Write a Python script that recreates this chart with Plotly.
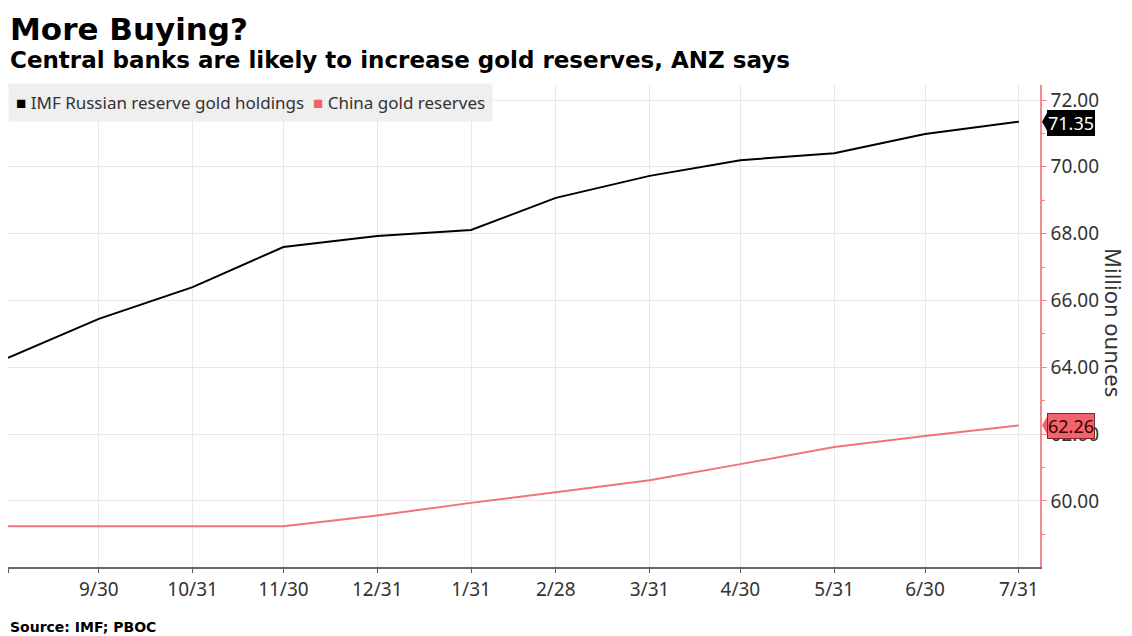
import plotly.graph_objects as go

dates = ["2018-08-31", "2018-09-30", "2018-10-31", "2018-11-30", "2018-12-31", "2019-01-31",
         "2019-02-28", "2019-03-31", "2019-04-30", "2019-05-31", "2019-06-30", "2019-07-31"]
russia = [64.28, 65.45, 66.40, 67.60, 67.93, 68.11, 69.07, 69.73, 70.20, 70.41, 70.98, 71.35]
china = [59.24, 59.24, 59.24, 59.24, 59.56, 59.94, 60.26, 60.62, 61.10, 61.61, 61.94, 62.26]
tick_labels = ["", "9/30", "10/31", "11/30", "12/31", "1/31", "2/28", "3/31", "4/30", "5/31", "6/30", "7/31"]

BLACK = "#000000"
RED = "#f0737b"
BADGE_RED = "#f2636b"
FONT = "Noto Sans"
BOLD = "DejaVu Sans"

fig = go.Figure()
fig.add_trace(go.Scatter(x=dates, y=china, mode="lines", line=dict(color=RED, width=2),
                         name="China gold reserves", showlegend=False))
fig.add_trace(go.Scatter(x=dates, y=russia, mode="lines", line=dict(color=BLACK, width=2),
                         name="IMF Russian reserve gold holdings", showlegend=False))

W, H = 1132, 636
L, R, T, B = 8, 92, 85, 69
ph = H - T - B
pw = W - L - R

def py(p):
    return (H - B - p) / ph

def px(p):
    return (p - L) / pw

annotations = [
    dict(text="<b>More Buying?</b>",
         xref="paper", yref="paper", x=0, y=py(29), xanchor="left", yanchor="middle",
         showarrow=False, font=dict(family=BOLD, size=31, color="#000")),
    dict(text="<b>Central banks are likely to increase gold reserves, ANZ says</b>",
         xref="paper", yref="paper", x=0, y=py(60), xanchor="left", yanchor="middle",
         showarrow=False, font=dict(family=BOLD, size=23, color="#000")),
    dict(text="<b>Source: IMF; PBOC</b>",
         xref="paper", yref="paper", x=0, y=py(627), xanchor="left", yanchor="middle",
         showarrow=False, font=dict(family=BOLD, size=14, color="#000")),
    dict(text="Million ounces", xref="paper", yref="paper", x=px(1114), y=py(322),
         xanchor="center", yanchor="middle", textangle=90, showarrow=False,
         font=dict(family=FONT, size=22, color="#333")),
    dict(text=("<span style='color:#000'>■</span> IMF Russian reserve gold holdings  "
               "<span style='color:%s'>■</span> China gold reserves" % BADGE_RED),
         xref="paper", yref="paper", x=0, y=py(102), xanchor="left", yanchor="middle",
         showarrow=False, bgcolor="#efefef", borderpad=7,
         font=dict(family=FONT, size=17, color="#333")),
]

shapes = []
for vals, fill, txtcol in [(russia, BLACK, "#ffffff"), (china, BADGE_RED, "#3a0000")]:
    v = vals[-1]
    annotations.append(dict(text="%.2f" % v, xref="paper", yref="y", x=1, y=v,
                            xanchor="left", yanchor="middle", xshift=7, yshift=-1, showarrow=False,
                            bgcolor=fill, bordercolor=fill if fill == BLACK else "#7a2a2a",
                            borderwidth=1, borderpad=0,
                            font=dict(family=FONT, size=18, color=txtcol)))
    hh = 10.5 / 33.42
    x0 = 1 + 2 / pw
    x1 = 1 + 8 / pw
    shapes.append(dict(type="path", xref="paper", yref="y",
                       path=f"M {x0} {v} L {x1} {v + hh} L {x1} {v - hh} Z",
                       fillcolor=fill, line=dict(width=0), layer="above"))

fig.update_layout(
    width=W, height=H,
    margin=dict(l=L, r=R, t=T, b=B),
    paper_bgcolor="white", plot_bgcolor="white",
    showlegend=False,
    font=dict(family=FONT, color="#333"),
    xaxis=dict(type="date", range=["2018-08-31", "2019-08-07"],
               tickvals=dates, ticktext=tick_labels,
               showgrid=True, gridcolor="#e8e8e8", gridwidth=1,
               showline=True, linecolor="#666", linewidth=2,
               ticks="outside", ticklen=4, tickcolor="#555",
               tickfont=dict(family=FONT, size=19, color="#333"),
               zeroline=False, fixedrange=True),
    yaxis=dict(side="right", range=[58.02, 72.45], tick0=60, dtick=2, tickformat=".2f",
               showgrid=True, gridcolor="#e8e8e8", gridwidth=1,
               showline=True, linecolor="#ee8a90", linewidth=1.5,
               ticks="outside", ticklen=5, tickcolor="#ee8a90",
               minor=dict(dtick=1, tick0=60, ticks="outside", ticklen=3, tickcolor="#ee8a90", showgrid=False),
               tickfont=dict(family=FONT, size=19, color="#333"),
               zeroline=False, fixedrange=True),
    annotations=annotations,
    shapes=shapes,
)

fig.write_html("out.html")
